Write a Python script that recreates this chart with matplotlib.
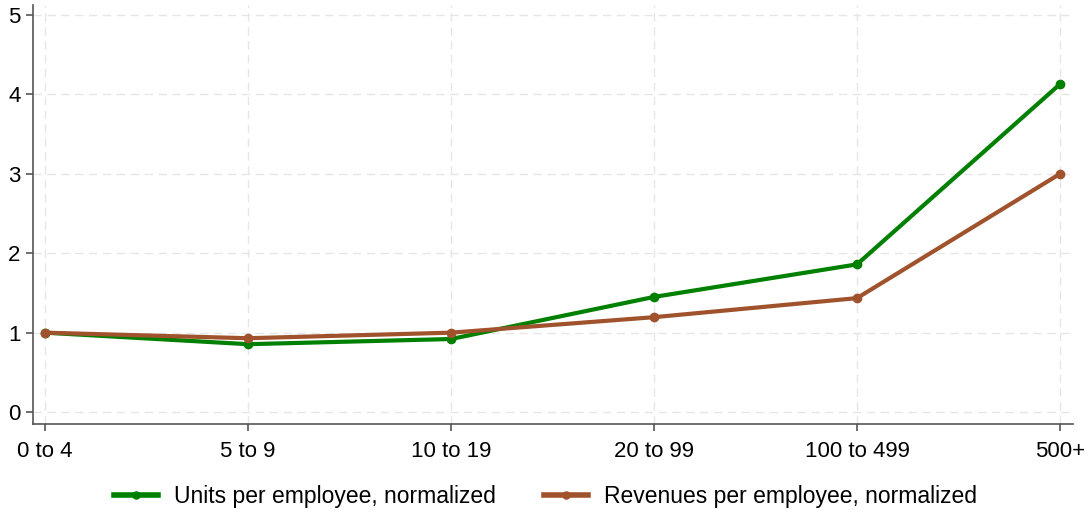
import matplotlib
matplotlib.use("Agg")
import matplotlib.pyplot as plt

categories = ["0 to 4", "5 to 9", "10 to 19", "20 to 99", "100 to 499", "500+"]
units = [1.0, 0.855, 0.92, 1.45, 1.86, 4.13]
revenues = [1.0, 0.93, 1.0, 1.195, 1.435, 3.0]

plt.rcParams['font.family'] = ['Liberation Sans', 'DejaVu Sans']

fig = plt.figure(figsize=(10.91, 5.18), dpi=100)
ax = fig.add_axes([33/1091, 1-424/518, (1073-33)/1091, (424-5)/518])

x = list(range(len(categories)))
ax.plot(x, units, color="#008000", lw=3.0, marker="o", ms=6, label="Units per employee, normalized", zorder=3)
ax.plot(x, revenues, color="#A0522D", lw=3.0, marker="o", ms=6, label="Revenues per employee, normalized", zorder=3)

ax.set_xlim(-0.059, 5.064)
ax.set_ylim(-0.15, 5.126)
ax.set_xticks(x)
ax.set_xticklabels(categories)
ax.set_yticks([0, 1, 2, 3, 4, 5])
ax.grid(True, color="#e6e6e6", linestyle=(0, (6, 4)), lw=1)
ax.set_axisbelow(True)
for s in ["top", "right"]:
    ax.spines[s].set_visible(False)
for s in ["left", "bottom"]:
    ax.spines[s].set_color("#555555")
    ax.spines[s].set_linewidth(1.2)
ax.tick_params(axis="both", labelsize=16, color="#555555", length=5, width=1.2)
ax.tick_params(axis="x", pad=7)
ax.tick_params(axis="y", pad=4)

leg = fig.legend(loc="center", bbox_to_anchor=(0.5, 1-497/518), ncol=2, frameon=False,
                 fontsize=16.5, handlelength=1.9, handletextpad=0.7, columnspacing=2.1,
                 markerscale=0.85)
for h in leg.get_lines():
    h.set_linewidth(4)
fig.savefig("out.png", dpi=100)
